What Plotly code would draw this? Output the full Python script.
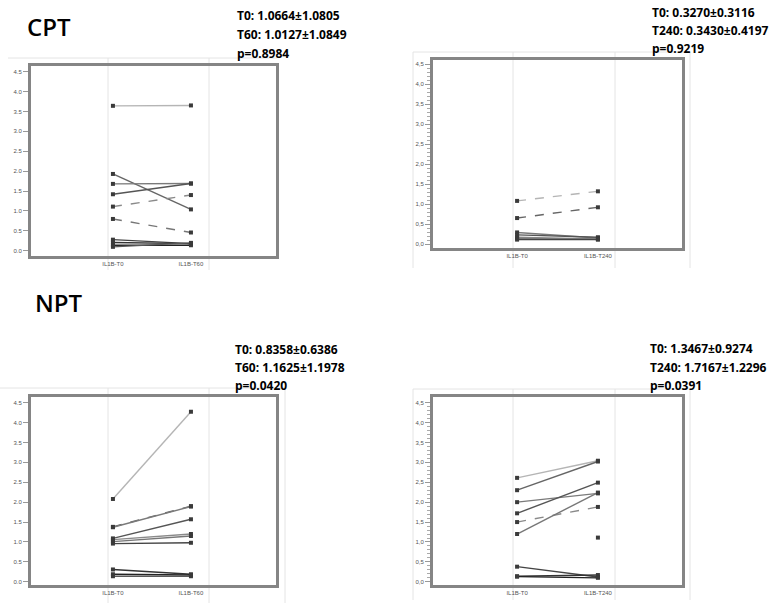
import plotly.graph_objects as go

W, H = 779, 603

# ---------------- data ----------------
cpt_t60_before = [3.64, 1.93, 1.68, 1.42, 1.11, 0.80, 0.28, 0.21, 0.14, 0.10]
cpt_t60_after = [3.65, 1.04, 1.69, 1.69, 1.40, 0.46, 0.18, 0.18, 0.14, 0.20]

cpt_t240_before = [1.08, 0.65, 0.29, 0.23, 0.17, 0.14, 0.11]
cpt_t240_after = [1.32, 0.92, 0.15, 0.17, 0.12, 0.13, 0.11]

npt_t60_before = [2.08, 1.38, 1.37, 1.09, 1.06, 1.01, 0.96, 0.31, 0.19, 0.14]
npt_t60_after = [4.27, 1.90, 1.89, 1.57, 1.20, 1.15, 0.98, 0.19, 0.17, 0.14]

npt_t240_before = [2.61, 2.30, 2.00, 1.72, 1.50, 1.20, 0.38, 0.14, 0.13, None]
npt_t240_after = [3.04, 3.02, 2.22, 2.49, 1.88, 2.24, 0.12, 0.17, 0.10, 1.11]

ticks_dot = ["0.0", "0.5", "1.0", "1.5", "2.0", "2.5", "3.0", "3.5", "4.0", "4.5"]
ticks_comma = ["0,0", "0,5", "1,0", "1,5", "2,0", "2,5", "3,0", "3,5", "4,0", "4,5"]
tick_vals = [0, 0.5, 1, 1.5, 2, 2.5, 3, 3.5, 4, 4.5]

cats_t60 = ["IL1B-T0", "IL1B-T60"]
cats_t240 = ["IL1B-T0", "IL1B-T240"]

stats_cpt_t60 = ["T0: 1.0664±1.0805", "T60: 1.0127±1.0849", "p=0.8984"]
stats_cpt_t240 = ["T0: 0.3270±0.3116", "T240: 0.3430±0.4197", "p=0.9219"]
stats_npt_t60 = ["T0: 0.8358±0.6386", "T60: 1.1625±1.1978", "p=0.0420"]
stats_npt_t240 = ["T0: 1.3467±0.9274", "T240: 1.7167±1.2296", "p=0.0391"]

# ---------------- styles ----------------
greys = ["#b5b5b5", "#666666", "#7a7a7a", "#555555", "#8a8a8a",
         "#777777", "#444444", "#333333", "#222222", "#5a5a5a"]
minor_vals = [k / 10 for k in range(0, 46) if k % 5 != 0]


def px_x(x):
    return x / W


def px_y(y):
    return 1 - y / H


panels = [
    dict(b=cpt_t60_before, a=cpt_t60_after, cats=cats_t60, tt=ticks_dot,
         xd=(31, 276), yd=(66, 256), xr=[-1.05, 2.09], yr=[-0.13, 4.64],
         dash=["solid", "solid", "solid", "solid", "dash", "dash", "solid", "solid", "solid", "solid"],
         minor=False),
    dict(b=cpt_t240_before, a=cpt_t240_after, cats=cats_t240, tt=ticks_comma,
         xd=(433, 682), yd=(60, 248), xr=[-1.04, 2.04], yr=[-0.1, 4.61],
         dash=["dash", "dash", "solid", "solid", "solid", "solid", "solid"],
         minor=True),
    dict(b=npt_t60_before, a=npt_t60_after, cats=cats_t60, tt=ticks_dot,
         xd=(31, 276), yd=(397, 585), xr=[-1.05, 2.09], yr=[-0.08, 4.64],
         dash=["solid", "dash", "solid", "solid", "solid", "solid", "solid", "solid", "solid", "solid"],
         minor=False),
    dict(b=npt_t240_before, a=npt_t240_after, cats=cats_t240, tt=ticks_comma,
         xd=(433, 682), yd=(397, 585), xr=[-1.04, 2.04], yr=[-0.08, 4.64],
         dash=["solid", "solid", "solid", "solid", "dash", "solid", "solid", "solid", "solid", "solid"],
         minor=True),
]

fig = go.Figure()
layout = dict(width=W, height=H, margin=dict(l=0, r=0, t=0, b=0),
              paper_bgcolor="white", plot_bgcolor="white", showlegend=False)

for i, p in enumerate(panels, start=1):
    xa = "x" if i == 1 else f"x{i}"
    ya = "y" if i == 1 else f"y{i}"
    for j, (b, a) in enumerate(zip(p["b"], p["a"])):
        fig.add_trace(go.Scatter(
            x=[0, 1], y=[b, a], xaxis=xa, yaxis=ya, mode="lines+markers",
            line=dict(color=greys[j % len(greys)], width=1.4, dash=p["dash"][j]),
            marker=dict(size=4, color="#3a3a3a", symbol="square"),
            connectgaps=False, hoverinfo="skip"))
    xkey = "xaxis" if i == 1 else f"xaxis{i}"
    ykey = "yaxis" if i == 1 else f"yaxis{i}"
    layout[xkey] = dict(
        domain=[px_x(p["xd"][0]), px_x(p["xd"][1])], range=p["xr"],
        anchor=ya, tickvals=[0, 1], ticktext=p["cats"], ticks="",
        showgrid=False, zeroline=False, showline=True, mirror=True,
        linewidth=3, linecolor="#858585",
        tickfont=dict(size=6, color="#555555", family="Liberation Sans"))
    ydict = dict(
        domain=[px_y(p["yd"][1]), px_y(p["yd"][0])], range=p["yr"],
        anchor=xa, tickvals=tick_vals, ticktext=p["tt"], ticks="outside",
        ticklen=5, tickcolor="#999999", tickwidth=1,
        showgrid=False, zeroline=False, showline=True, mirror=True,
        linewidth=3, linecolor="#858585",
        tickfont=dict(size=6, color="#555555", family="Liberation Sans"))
    if p["minor"]:
        ydict["minor"] = dict(tickmode="array", tickvals=minor_vals, ticks="outside",
                              ticklen=3.5, tickcolor="#aaaaaa", showgrid=False)
    layout[ykey] = ydict

fig.update_layout(**layout)

# faint frame lines (from the composited screenshots)
faint = "#e4e4e4"
frames = [
    ((8, 58), (277, 58)), ((108, 58), (108, 270)), ((209, 58), (209, 270)),
    ((413, 52), (690, 52)), ((413, 52), (413, 268)), ((513, 52), (513, 268)),
    ((615, 52), (615, 268)), ((690, 52), (690, 268)),
    ((0, 388), (285, 388)), ((108, 388), (108, 603)), ((209, 388), (209, 603)),
    ((285, 388), (285, 603)),
    ((413, 389), (690, 389)), ((413, 389), (413, 600)), ((513, 389), (513, 600)),
    ((615, 389), (615, 600)), ((690, 389), (690, 600)),
]
for (x0, y0), (x1, y1) in frames:
    fig.add_shape(type="line", xref="paper", yref="paper",
                  x0=px_x(x0), y0=px_y(y0), x1=px_x(x1), y1=px_y(y1),
                  line=dict(color=faint, width=1), layer="below")

# titles
for txt, x, y in [("CPT", 25, 26), ("NPT", 33, 302)]:
    fig.add_annotation(text=txt, xref="paper", yref="paper", x=px_x(x), y=px_y(y),
                       xanchor="left", yanchor="middle", showarrow=False,
                       font=dict(size=24, color="black", family="Open Sans", weight=600))

# stats text
stat_blocks = [
    (stats_cpt_t60, 235, [15.5, 35, 53.5]),
    (stats_cpt_t240, 650, [12.5, 31, 48.5]),
    (stats_npt_t60, 233, [349, 367.5, 385]),
    (stats_npt_t240, 648, [348, 367.5, 385]),
]
for lines, x, ys in stat_blocks:
    for t, y in zip(lines, ys):
        fig.add_annotation(text=t, xref="paper", yref="paper", x=px_x(x), y=px_y(y),
                           xanchor="left", yanchor="middle", showarrow=False,
                           font=dict(size=12, color="black", family="Open Sans", weight="bold"))

fig.write_html("out.html")
